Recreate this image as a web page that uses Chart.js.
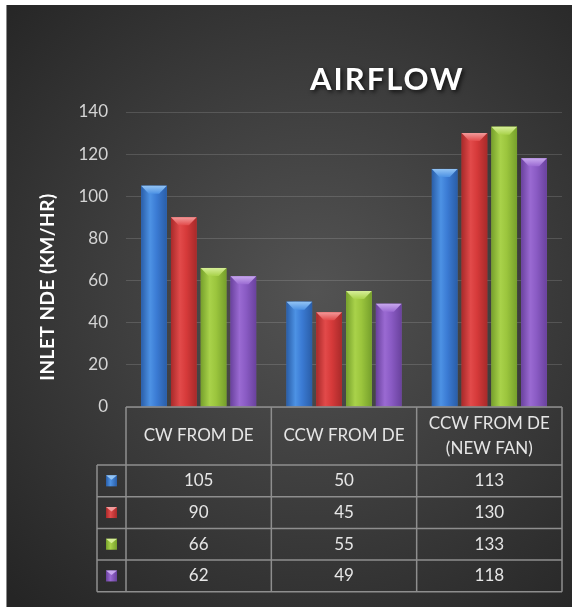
<!DOCTYPE html>
<html>
<head>
<meta charset="utf-8">
<script src="https://cdn.jsdelivr.net/npm/chart.js@4.4.1/dist/chart.umd.min.js"></script>
<style>
  html, body { margin: 0; padding: 0; background: #fff; }
  canvas { display: block; }
</style>
</head>
<body>
<canvas id="airflowChart" width="572" height="607"></canvas>
<script>
// chart data
const categories = [['CW FROM DE'], ['CCW FROM DE'], ['CCW FROM DE', '(NEW FAN)']];
const seriesBlue = [105, 50, 113];
const seriesRed = [90, 45, 130];
const seriesGreen = [66, 55, 133];
const seriesPurple = [62, 49, 118];
const yTicks = [0, 20, 40, 60, 80, 100, 120, 140];

const chartTitle = 'AIRFLOW';
const yAxisTitle = 'INLET NDE (KM/HR)';

// bar colours: edge / middle / bevel cap
const palette = [
  { base: '#3b7bd4', edge: '#2a5ea8', mid: '#4d92e4', cap: '#93c4f4' },
  { base: '#d63a3a', edge: '#a82a2a', mid: '#e24a4a', cap: '#f29a9a' },
  { base: '#9bc53d', edge: '#76a02c', mid: '#a9d24a', cap: '#d6ee98' },
  { base: '#8a5bc4', edge: '#6a429e', mid: '#9a6ad2', cap: '#c8a8ee' }
];

const textColor = '#e6e6e6';
const tableLine = '#8e8e8e';
const fontFamily = 'Lato, "Open Sans", sans-serif';

// dark background with a soft light spot in the middle
const backgroundPlugin = {
  id: 'background',
  beforeDraw(chart) {
    const ctx = chart.ctx;
    const w = chart.width, h = chart.height;
    ctx.save();
    ctx.fillStyle = '#ffffff';
    ctx.fillRect(0, 0, w, h);
    const g = ctx.createRadialGradient(w * 0.55, h * 0.48, 0, w * 0.55, h * 0.48, 430);
    g.addColorStop(0, '#535353');
    g.addColorStop(0.55, '#3a3a3a');
    g.addColorStop(1, '#252525');
    ctx.fillStyle = g;
    ctx.fillRect(6, 5, w - 6, h - 5);
    ctx.fillStyle = '#8a8a8a';
    ctx.fillRect(6, 5, 1, h - 5);
    ctx.restore();
  }
};

// repaint bars with a cylinder-like shading and bevelled top
const barShading = {
  id: 'barShading',
  afterDatasetsDraw(chart) {
    const ctx = chart.ctx;
    chart.data.datasets.forEach((ds, di) => {
      const meta = chart.getDatasetMeta(di);
      const c = palette[di];
      meta.data.forEach(bar => {
        const { x, y, base, width } = bar.getProps(['x', 'y', 'base', 'width'], true);
        const left = x - width / 2;
        const right = x + width / 2;
        ctx.save();
        const g = ctx.createLinearGradient(left, 0, right, 0);
        g.addColorStop(0, c.edge);
        g.addColorStop(0.35, c.mid);
        g.addColorStop(0.6, c.base);
        g.addColorStop(1, c.edge);
        ctx.fillStyle = g;
        ctx.fillRect(left, y, width, base - y);
        // bevel on top
        const capH = Math.min(8, (base - y) / 2);
        const cg = ctx.createLinearGradient(0, y, 0, y + capH);
        cg.addColorStop(0, c.cap);
        cg.addColorStop(1, c.mid);
        ctx.fillStyle = cg;
        ctx.beginPath();
        ctx.moveTo(left, y);
        ctx.lineTo(right, y);
        ctx.lineTo(right - width * 0.3, y + capH);
        ctx.lineTo(left + width * 0.3, y + capH);
        ctx.closePath();
        ctx.fill();
        ctx.restore();
      });
    });
  }
};

// data table under the plot with legend keys
const dataTable = {
  id: 'dataTable',
  afterDraw(chart) {
    const ctx = chart.ctx;
    const area = chart.chartArea;
    const colW = (area.right - area.left) / categories.length;
    const keyLeft = area.left - 29;
    const headTop = area.bottom;
    const headBottom = headTop + 58;
    const rowH = 31.7;
    const series = chart.data.datasets;
    const tableBottom = headBottom + rowH * series.length;

    ctx.save();
    ctx.strokeStyle = tableLine;
    ctx.lineWidth = 1.5;
    ctx.beginPath();
    // header top and column lines
    ctx.moveTo(area.left, headTop);
    ctx.lineTo(area.right, headTop);
    for (let i = 0; i <= categories.length; i++) {
      const cx = area.left + i * colW;
      ctx.moveTo(cx, headTop);
      ctx.lineTo(cx, tableBottom);
    }
    // row lines
    for (let r = 0; r <= series.length; r++) {
      const ry = headBottom + r * rowH;
      ctx.moveTo(keyLeft, ry);
      ctx.lineTo(area.right, ry);
    }
    ctx.moveTo(keyLeft, headBottom);
    ctx.lineTo(keyLeft, tableBottom);
    ctx.stroke();

    ctx.fillStyle = textColor;
    ctx.font = '17px ' + fontFamily;
    ctx.textAlign = 'center';
    ctx.textBaseline = 'middle';
    categories.forEach((lines, i) => {
      const cx = area.left + (i + 0.5) * colW;
      const mid = (headTop + headBottom) / 2;
      lines.forEach((t, li) => {
        ctx.fillText(t, cx, mid + (li - (lines.length - 1) / 2) * 25);
      });
    });

    series.forEach((ds, r) => {
      const cy = headBottom + (r + 0.5) * rowH;
      ds.data.forEach((v, i) => {
        ctx.fillStyle = textColor;
        ctx.fillText(String(v), area.left + (i + 0.5) * colW, cy);
      });
      // legend key
      const c = palette[r];
      const kx = (keyLeft + area.left) / 2;
      const g = ctx.createLinearGradient(kx - 5.5, 0, kx + 5.5, 0);
      g.addColorStop(0, c.edge);
      g.addColorStop(0.4, c.mid);
      g.addColorStop(1, c.edge);
      ctx.fillStyle = g;
      ctx.fillRect(kx - 5.5, cy - 5.5, 11, 11);
      ctx.fillStyle = c.cap;
      ctx.beginPath();
      ctx.moveTo(kx - 5.5, cy - 5.5);
      ctx.lineTo(kx + 5.5, cy - 5.5);
      ctx.lineTo(kx, cy - 1);
      ctx.closePath();
      ctx.fill();
    });
    ctx.restore();
  }
};

// chart title and rotated axis title
const titles = {
  id: 'titles',
  afterDraw(chart) {
    const ctx = chart.ctx;
    ctx.save();
    ctx.shadowColor = 'rgba(0,0,0,0.7)';
    ctx.shadowBlur = 4;
    ctx.shadowOffsetX = 2;
    ctx.shadowOffsetY = 2;
    ctx.fillStyle = '#ffffff';
    ctx.font = 'bold 31px ' + fontFamily;
    ctx.letterSpacing = '2px';
    ctx.textAlign = 'left';
    ctx.textBaseline = 'alphabetic';
    ctx.fillText(chartTitle, 310, 90);
    ctx.restore();

    ctx.save();
    ctx.fillStyle = '#ffffff';
    ctx.font = 'bold 19px ' + fontFamily;
    ctx.letterSpacing = '0.5px';
    ctx.translate(48, 287);
    ctx.rotate(-Math.PI / 2);
    ctx.textAlign = 'center';
    ctx.textBaseline = 'middle';
    ctx.fillText(yAxisTitle, 0, 0);
    ctx.restore();
  }
};

const seriesList = [seriesBlue, seriesRed, seriesGreen, seriesPurple];

const ctx = document.getElementById('airflowChart').getContext('2d');
window.airflowChart = new Chart(ctx, {
  type: 'bar',
  data: {
    labels: categories,
    datasets: seriesList.map((values, i) => ({
      data: values,
      backgroundColor: palette[i].base,
      borderWidth: 0,
      categoryPercentage: 0.82,
      barPercentage: 0.86
    }))
  },
  options: {
    responsive: false,
    animation: false,
    devicePixelRatio: 1,
    layout: {
      padding: { top: 112, right: 10, bottom: 200, left: 0 }
    },
    plugins: {
      legend: { display: false },
      title: { display: false },
      tooltip: { enabled: false }
    },
    scales: {
      x: {
        display: false
      },
      y: {
        min: yTicks[0],
        max: yTicks[yTicks.length - 1],
        afterBuildTicks: scale => {
          scale.ticks = yTicks.map(v => ({ value: v }));
        },
        afterFit: scale => {
          scale.width = 126;
        },
        border: { display: false },
        grid: {
          color: 'rgba(255,255,255,0.14)',
          lineWidth: 1,
          drawTicks: false
        },
        ticks: {
          color: '#d4d4d4',
          padding: 18,
          font: { family: fontFamily, size: 17 }
        }
      }
    }
  },
  plugins: [backgroundPlugin, barShading, dataTable, titles]
});
</script>
</body>
</html>
